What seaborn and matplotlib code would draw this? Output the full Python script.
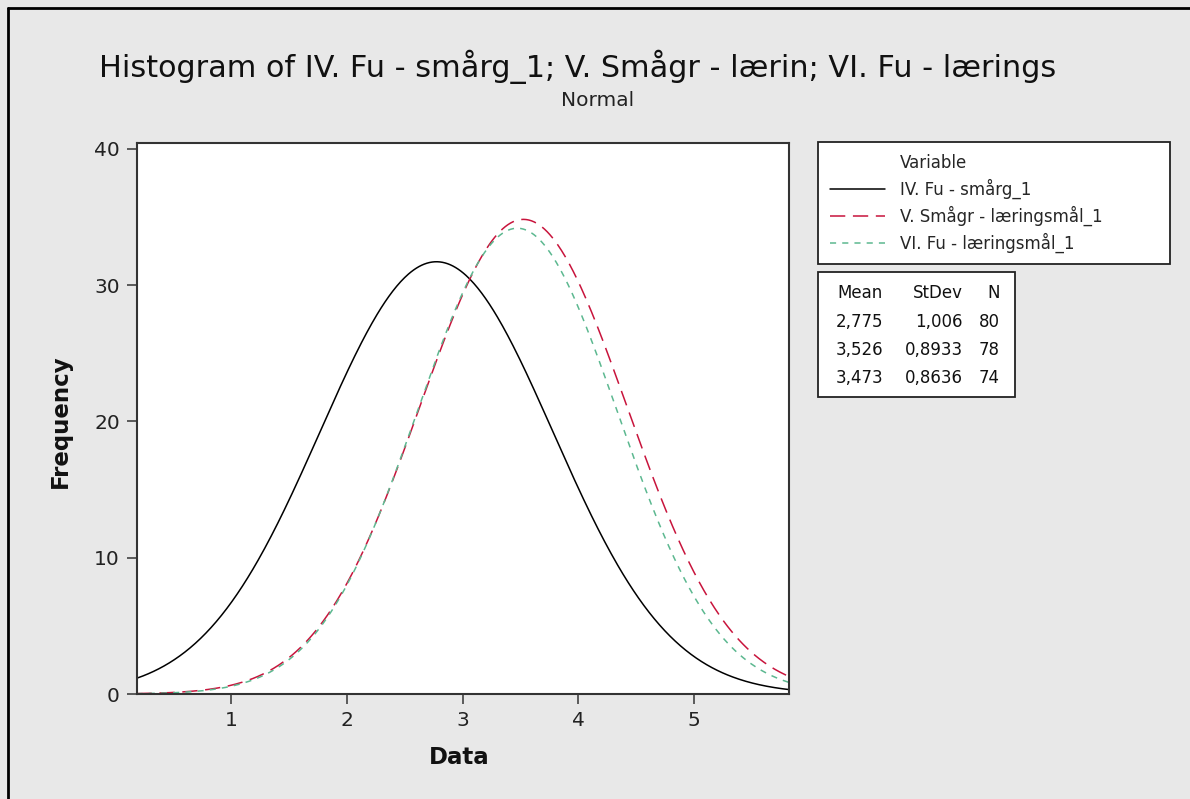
import numpy as np
import pandas as pd
import seaborn as sns
import matplotlib
matplotlib.use("Agg")
import matplotlib.pyplot as plt
from matplotlib.lines import Line2D
from matplotlib.patches import Rectangle

# ---- data ----
variables = ["IV. Fu - smårg_1", "V. Smågr - læringsmål_1", "VI. Fu - læringsmål_1"]
means = [2.775, 3.526, 3.473]
stdevs = [1.006, 0.8933, 0.8636]
counts = [80, 78, 74]
bin_width = 1.0
x_ticks = [1, 2, 3, 4, 5]
y_ticks = [0, 10, 20, 30, 40]
x_range = (0.184, 5.82)
y_range = (0, 40.44)

colors = ["#000000", "#c8143c", "#5cb890"]
line_styles = ["-", (0, (10, 5)), (0, (4, 4))]

sns.set_theme(style="white")
plt.rcParams["font.family"] = ["DejaVu Sans"]

W, H = 1190, 799
fig = plt.figure(figsize=(W / 100, H / 100), dpi=100)
fig.patch.set_facecolor("#e8e8e8")


def fx(x):
    return x / W


def fy(y):
    return 1 - y / H


ax = fig.add_axes([fx(136.5), fy(694), fx(789) - fx(136.5), fy(143) - fy(694)])
ax.set_facecolor("white")

# fitted normal curves (scaled to frequency)
xs = np.linspace(x_range[0], x_range[1], 500)
for name, m, s, n, c, ls in zip(variables, means, stdevs, counts, colors, line_styles):
    ys = n * bin_width * np.exp(-0.5 * ((xs - m) / s) ** 2) / (s * np.sqrt(2 * np.pi))
    sns.lineplot(x=xs, y=ys, ax=ax, color=c, linestyle=ls, linewidth=1.1, label=name)

ax.set_xlim(*x_range)
ax.set_ylim(*y_range)
ax.set_xticks(x_ticks)
ax.set_yticks(y_ticks)
ax.tick_params(axis="both", which="both", direction="out", length=7, width=1.1,
               color="#333333", labelsize=14.5, labelcolor="#222222", pad=5,
               bottom=True, left=True)
for sp in ax.spines.values():
    sp.set_color("#333333")
    sp.set_linewidth(1.5)

ax.set_xlabel("")
ax.set_ylabel("")
fig.text(fx(459), fy(757), "Data", ha="center", va="center", fontsize=16.5,
         fontweight="bold", color="#111111")
fig.text(fx(60), fy(421), "Frequency", ha="center", va="center", fontsize=16.5,
         fontweight="bold", color="#111111", rotation=90)

# titles
fig.text(fx(578), fy(67), "Histogram of IV. Fu - smårg_1; V. Smågr - lærin; VI. Fu - lærings",
         ha="center", va="center", fontsize=21.8, color="#111111")
fig.text(fx(598), fy(101), "Normal", ha="center", va="center", fontsize=14.5, color="#222222")

# legend with "Variable" header row
fs = 12
handles, labels = ax.get_legend_handles_labels()
blank = Line2D([], [], color="none")
leg = ax.legend([blank] + handles, ["Variable"] + labels,
                loc="upper left",
                bbox_to_anchor=(fx(818), fy(265), fx(1170) - fx(818), fy(142) - fy(265)),
                bbox_transform=fig.transFigure, mode="expand",
                fontsize=fs, frameon=True, fancybox=False, handlelength=3.3,
                handletextpad=0.9, labelspacing=0.4, borderpad=0.7, borderaxespad=0)
leg.get_frame().set_edgecolor("#222222")
leg.get_frame().set_linewidth(1.3)
leg.get_frame().set_facecolor("white")
leg.get_frame().set_alpha(1)

# statistics table
fig.add_artist(Rectangle((fx(818), fy(397)), fx(1015) - fx(818), fy(272) - fy(397),
                         transform=fig.transFigure, facecolor="white",
                         edgecolor="#222222", linewidth=1.3))
col_right = [883, 963, 1000]
row_y = [293, 322, 350, 378]
headers = ["Mean", "StDev", "N"]
for j, h in enumerate(headers):
    fig.text(fx(col_right[j]), fy(row_y[0]), h, ha="right", va="center", fontsize=fs, color="#111111")
for i, (m, s, n) in enumerate(zip(means, stdevs, counts)):
    cells = [f"{m:.4g}".replace(".", ","), f"{s:.4g}".replace(".", ","), str(n)]
    for j, t in enumerate(cells):
        fig.text(fx(col_right[j]), fy(row_y[i + 1]), t, ha="right", va="center",
                 fontsize=fs, color="#111111")

# outer border (top and left)
fig.add_artist(Line2D([fx(8), fx(8)], [0, fy(8)], transform=fig.transFigure, color="black", linewidth=2))
fig.add_artist(Line2D([fx(8), 1], [fy(8), fy(8)], transform=fig.transFigure, color="black", linewidth=2))

fig.savefig("out.png", dpi=100, facecolor=fig.get_facecolor())
